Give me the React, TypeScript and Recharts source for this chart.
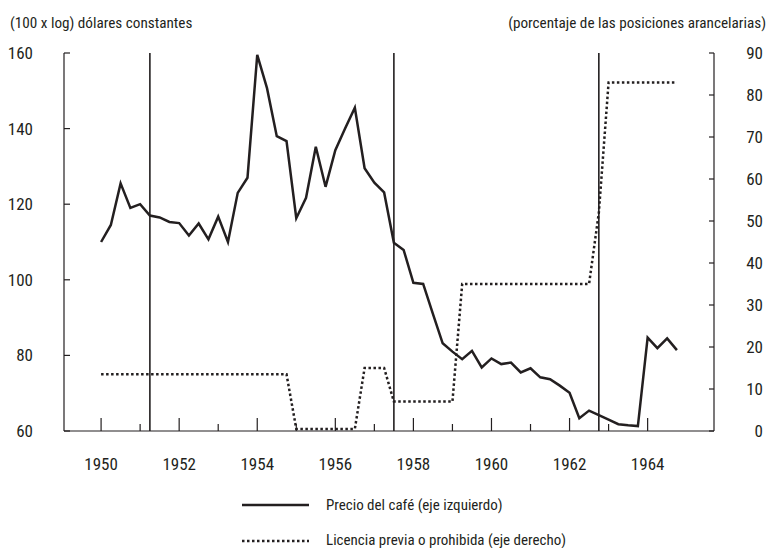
import React from 'react';
import { LineChart, Line, XAxis, YAxis, ReferenceLine } from 'recharts';

const INK = '#231f20';
const FONT = "'Liberation Sans Narrow', 'Arial Narrow', 'Roboto Condensed', 'DejaVu Sans Condensed', sans-serif";

const quarters = [
  1950, 1950.25, 1950.5, 1950.75,
  1951, 1951.25, 1951.5, 1951.75,
  1952, 1952.25, 1952.5, 1952.75,
  1953, 1953.25, 1953.5, 1953.75,
  1954, 1954.25, 1954.5, 1954.75,
  1955, 1955.25, 1955.5, 1955.75,
  1956, 1956.25, 1956.5, 1956.75,
  1957, 1957.25, 1957.5, 1957.75,
  1958, 1958.25, 1958.5, 1958.75,
  1959, 1959.25, 1959.5, 1959.75,
  1960, 1960.25, 1960.5, 1960.75,
  1961, 1961.25, 1961.5, 1961.75,
  1962, 1962.25, 1962.5, 1962.75,
  1963, 1963.25, 1963.5, 1963.75,
  1964, 1964.25, 1964.5, 1964.75,
];

const coffeePrice = [
  110, 114.5, 125.5, 119,
  120, 117, 116.5, 115.3,
  115, 111.7, 114.9, 110.7,
  116.7, 110, 123, 127,
  159.5, 150.7, 138, 136.7,
  116.3, 121.7, 135.2, 124.6,
  134.3, 140, 145.5, 129.5,
  125.7, 123.1, 109.8, 107.9,
  99.2, 98.9, 91, 83.2,
  81, 79, 81.2, 76.8,
  79.2, 77.7, 78.1, 75.5,
  76.6, 74.2, 73.7, 72,
  70.1, 63.4, 65.4, 64.2,
  63, 61.8, 61.5, 61.3,
  84.7, 81.9, 84.5, 81.4,
];

const importLicence = [
  13.5, 13.5, 13.5, 13.5,
  13.5, 13.5, 13.5, 13.5,
  13.5, 13.5, 13.5, 13.5,
  13.5, 13.5, 13.5, 13.5,
  13.5, 13.5, 13.5, 13.5,
  0.5, 0.5, 0.5, 0.5,
  0.5, 0.5, 0.5, 15,
  15, 15, 7, 7,
  7, 7, 7, 7,
  7, 35, 35, 35,
  35, 35, 35, 35,
  35, 35, 35, 35,
  35, 35, 35, 52,
  83, 83, 83, 83,
  83, 83, 83, 83,
];

const yearTicks = [1950, 1951, 1952, 1953, 1954, 1955, 1956, 1957, 1958, 1959, 1960, 1961, 1962, 1963, 1964];
const leftTicks = [60, 80, 100, 120, 140, 160];
const rightTicks = [0, 10, 20, 30, 40, 50, 60, 70, 80, 90];
const markerYears = [1951.25, 1957.5, 1962.75];

const leftTitle = '(100 x log) dólares constantes';
const rightTitle = '(porcentaje de las posiciones arancelarias)';
const priceLabel = 'Precio del café (eje izquierdo)';
const licenceLabel = 'Licencia previa o prohibida (eje derecho)';

const data = quarters.map((q, i) => ({ t: q, price: coffeePrice[i], licence: importLicence[i] }));

const XTick = (props: any) => {
  const { x, y, payload } = props;
  const major = payload.value % 2 === 0;
  return (
    <g>
      <line x1={x} x2={x} y1={y} y2={y - (major ? 13 : 7)} stroke={INK} strokeWidth={1.2} />
      {major && (
        <text x={x} y={y + 39} textAnchor="middle" fontFamily={FONT} fontSize={17} fill={INK}>
          {payload.value}
        </text>
      )}
    </g>
  );
};

const LeftTick = (props: any) => {
  const { x, y, payload } = props;
  return (
    <g>
      <line x1={x} x2={x + 6} y1={y} y2={y} stroke={INK} strokeWidth={1.2} />
      <text x={x - 31} y={y + 6} textAnchor="end" fontFamily={FONT} fontSize={17} fill={INK}>
        {payload.value}
      </text>
    </g>
  );
};

const RightTick = (props: any) => {
  const { x, y, payload } = props;
  return (
    <g>
      <line x1={x} x2={x - 5} y1={y} y2={y} stroke={INK} strokeWidth={1.2} />
      <text x={x + 49} y={y + 6} textAnchor="end" fontFamily={FONT} fontSize={17} fill={INK}>
        {payload.value}
      </text>
    </g>
  );
};

export default function App() {
  return (
    <div style={{ position: 'absolute', left: 0, top: 0, width: 767, height: 548, background: '#fff' }}>
      <LineChart width={767} height={548} data={data} margin={{ top: 53, right: 0, bottom: 0, left: 0 }}>
        <XAxis
          dataKey="t"
          type="number"
          domain={[1949.05, 1965.7]}
          ticks={yearTicks}
          interval={0}
          height={117}
          tickSize={0}
          tickMargin={0}
          tickLine={false}
          tick={<XTick />}
          axisLine={{ stroke: INK, strokeWidth: 1.2 }}
          allowDataOverflow
        />
        <YAxis
          yAxisId="left"
          orientation="left"
          domain={[60, 160]}
          ticks={leftTicks}
          interval={0}
          width={64}
          tickSize={0}
          tickMargin={0}
          tickLine={false}
          tick={<LeftTick />}
          axisLine={{ stroke: INK, strokeWidth: 1.2 }}
        />
        <YAxis
          yAxisId="right"
          orientation="right"
          domain={[0, 90]}
          ticks={rightTicks}
          interval={0}
          width={53}
          tickSize={0}
          tickMargin={0}
          tickLine={false}
          tick={<RightTick />}
          axisLine={{ stroke: INK, strokeWidth: 1.2 }}
        />
        {markerYears.map((yr) => (
          <ReferenceLine key={yr} x={yr} yAxisId="left" stroke={INK} strokeWidth={1.6} />
        ))}
        <Line
          yAxisId="right"
          type="linear"
          dataKey="licence"
          stroke={INK}
          strokeWidth={2.5}
          strokeDasharray="2.5 2.5"
          dot={false}
          isAnimationActive={false}
        />
        <Line
          yAxisId="left"
          type="linear"
          dataKey="price"
          stroke={INK}
          strokeWidth={2.5}
          strokeLinejoin="miter"
          dot={false}
          isAnimationActive={false}
        />
      </LineChart>
      <svg width={767} height={548} style={{ position: 'absolute', left: 0, top: 0, pointerEvents: 'none' }}>
        <text x={10} y={28} fontFamily={FONT} fontSize={15.2} fill={INK}>{leftTitle}</text>
        <text x={766} y={28} textAnchor="end" fontFamily={FONT} fontSize={15.2} fill={INK}>{rightTitle}</text>
        <line x1={242} x2={309} y1={505} y2={505} stroke={INK} strokeWidth={2.5} />
        <text x={326} y={510} fontFamily={FONT} fontSize={15} fill={INK}>{priceLabel}</text>
        <line x1={242} x2={309} y1={541} y2={541} stroke={INK} strokeWidth={2.5} strokeDasharray="2.5 2.5" />
        <text x={326} y={545} fontFamily={FONT} fontSize={15} fill={INK}>{licenceLabel}</text>
      </svg>
    </div>
  );
}
